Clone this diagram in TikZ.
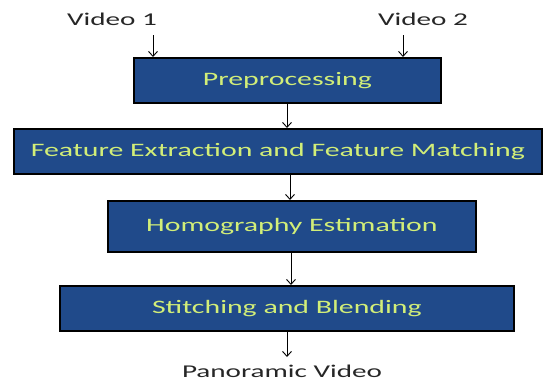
\documentclass[tikz,border=0pt]{standalone}
\usepackage{fontspec}
\setmainfont{Carlito}
\newfontfamily\wideboxfont[FakeStretch=1.57]{Carlito}
\newfontfamily\widelblfont[FakeStretch=1.62]{Carlito}
\usetikzlibrary{arrows.meta}
\definecolor{boxblue}{HTML}{204A8A}
\definecolor{boxtext}{HTML}{D2EE78}
\begin{document}
\begin{tikzpicture}[x=1pt,y=1pt,
  stage/.style={draw=black,line width=1.8pt,fill=boxblue,text=boxtext,
    font=\wideboxfont\fontsize{19}{22}\selectfont,inner sep=0pt,anchor=north west},
  lbl/.style={font=\widelblfont\fontsize{18}{21}\selectfont,text=black!85,inner sep=0pt,anchor=base},
  arr/.style={->,line width=0.9pt,>={Straight Barb[length=5pt,width=9pt]}}]
\useasboundingbox (0,0) rectangle (544,-381);
\node[stage,minimum width=307pt,minimum height=45pt] (pre) at (133,-57) {Preprocessing};
\node[stage,minimum width=528pt,minimum height=45pt] (fe) at (13,-128) {Feature Extraction and Feature Matching};
\node[stage,minimum width=368pt,minimum height=51pt] (ho) at (107,-200) {Homography Estimation};
\node[stage,minimum width=454pt,minimum height=45pt] (st) at (59,-285) {Stitching and Blending};
\node[lbl] (v1) at (112,-25) {Video 1};
\node[lbl] (v2) at (423,-25) {Video 2};
\node[lbl] (pv) at (282,-377) {Panoramic Video};
\coordinate (v1a) at (153,-35);
\coordinate (v2a) at (403,-35);
\coordinate (v1b) at (153,-57);
\coordinate (v2b) at (403,-57);
\coordinate (pvt) at (287,-357);
\draw[arr] (v1a) -- (v1b);
\draw[arr] (v2a) -- (v2b);
\draw[arr] (pre.south -| 287,0) -- (fe.north -| 287,0);
\draw[arr] (fe.south -| 290,0) -- (ho.north -| 290,0);
\draw[arr] (ho.south -| 291,0) -- (st.north -| 291,0);
\draw[arr] (st.south -| pvt) -- (pvt);
\end{tikzpicture}
\end{document}
